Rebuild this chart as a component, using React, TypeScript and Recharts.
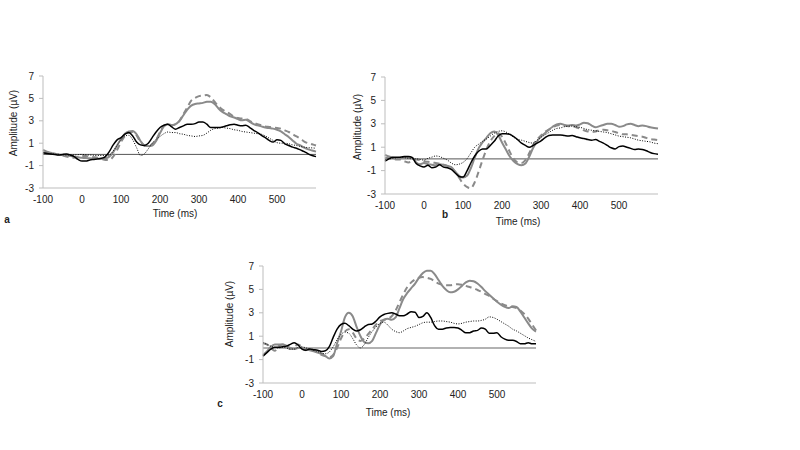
import { LineChart, Line, XAxis, YAxis, ReferenceLine } from 'recharts'

// time points (ms)
const times = [
  -100, -90, -80, -70, -60, -50, -40, -30, -20, -10,
  0, 10, 20, 30, 40, 50, 60, 70, 80, 90,
  100, 110, 120, 130, 140, 150, 160, 170, 180, 190,
  200, 210, 220, 230, 240, 250, 260, 270, 280, 290,
  300, 310, 320, 330, 340, 350, 360, 370, 380, 390,
  400, 410, 420, 430, 440, 450, 460, 470, 480, 490,
  500, 510, 520, 530, 540, 550, 560, 570, 580, 590,
  600,
]
const xTicks = [-100, 0, 100, 200, 300, 400, 500]
const yTicks = [-3, -1, 1, 3, 5, 7]

// panel a
const aBlack = [
  0.15, 0.08, 0.03, 0.0, -0.05, 0.0, 0.03, -0.05, -0.2, -0.45,
  -0.6, -0.6, -0.5, -0.45, -0.4, -0.35, -0.2, 0.25, 0.85, 1.3,
  1.5, 1.8, 1.95, 1.65, 1.1, 0.85, 0.8, 1.0, 1.5, 2.0,
  2.4, 2.6, 2.7, 2.45, 2.25, 2.4, 2.55, 2.7, 2.7, 2.75,
  2.9, 2.9, 2.7, 2.4, 2.4, 2.4, 2.45, 2.55, 2.65, 2.7,
  2.6, 2.55, 2.6, 2.4, 2.15, 1.95, 1.7, 1.5, 1.25, 1.1,
  1.3, 1.25, 0.95, 0.8, 0.65, 0.55, 0.4, 0.25, 0.05, -0.1,
  -0.2,
]
const aDotted = [
  0.15, 0.1, 0.05, 0.02, 0.0, -0.03, -0.05, -0.05, -0.05, -0.02,
  0.0, -0.03, -0.05, -0.08, -0.1, -0.1, -0.1, -0.05, 0.3, 0.8,
  1.3, 1.65, 1.7, 1.3, 0.6, -0.1, 0.05, 0.5, 1.0, 1.35,
  1.6, 1.85, 2.0, 1.95, 1.95, 1.85, 1.8, 1.7, 1.65, 1.6,
  1.65, 1.7, 1.9, 2.15, 2.3, 2.35, 2.4, 2.35, 2.3, 2.2,
  2.15, 2.05, 2.0, 1.95, 1.9, 1.85, 1.8, 1.65, 1.45, 1.25,
  1.05, 1.0, 1.0, 0.95, 0.85, 0.8, 0.7, 0.65, 0.6, 0.58,
  0.55,
]
const aGray = [
  0.4, 0.25, 0.15, 0.05, 0.0, -0.05, -0.1, -0.15, -0.2, -0.25,
  -0.3, -0.33, -0.35, -0.38, -0.4, -0.38, -0.35, -0.2, 0.2, 0.8,
  1.4, 1.85, 2.05, 2.1, 1.8, 1.2, 0.8, 0.75, 0.8, 1.2,
  1.9, 2.5, 2.7, 2.6, 2.7, 3.0, 3.5, 4.0, 4.35, 4.5,
  4.55, 4.6, 4.7, 4.7, 4.5, 4.1, 3.8, 3.6, 3.4, 3.3,
  3.15, 3.05, 3.1, 2.9, 2.7, 2.6, 2.5, 2.4, 2.35, 2.3,
  2.2, 2.05, 1.8, 1.55, 1.25, 0.95, 0.8, 0.6, 0.45, 0.35,
  0.25,
]
const aDashed = [
  0.2, 0.15, 0.1, 0.05, 0.0, -0.1, -0.2, -0.25, -0.3, -0.2,
  -0.15, -0.15, -0.2, -0.25, -0.3, -0.4, -0.5, -0.5, -0.2, 0.4,
  1.1, 1.65, 1.95, 2.0, 1.7, 1.1, 0.8, 0.75, 0.9, 1.3,
  2.0, 2.55, 2.7, 2.6, 2.7, 3.0, 3.6, 4.2, 4.8, 5.05,
  5.2, 5.25, 5.3, 5.1, 4.7, 4.3, 4.0, 3.8, 3.6, 3.35,
  3.25, 3.2, 3.15, 3.0, 2.8, 2.7, 2.6, 2.5, 2.45, 2.4,
  2.35, 2.3, 2.15, 2.0, 1.8, 1.6, 1.4, 1.15, 1.0, 0.9,
  0.8,
]

// panel b
const bBlack = [
  -0.2, 0.0, 0.15, 0.15, 0.15, 0.2, 0.2, 0.1, -0.4, -0.6,
  -0.7, -0.55, -0.75, -0.7, -0.5, -0.7, -0.75, -0.9, -1.2, -1.5,
  -1.55, -1.05, -0.35, 0.25, 0.65, 0.85, 0.85, 1.15, 1.5, 1.95,
  2.15, 2.15, 2.1, 1.9, 1.65, 1.35, 1.15, 1.0, 1.15, 1.35,
  1.55, 1.8, 2.0, 2.05, 2.05, 2.05, 2.0, 1.95, 2.0, 1.9,
  1.8, 1.75, 1.65, 1.6, 1.65, 1.5, 1.35, 1.15, 0.95, 0.85,
  1.05, 1.1, 1.0, 0.9, 0.8, 0.85, 0.8, 0.7, 0.55, 0.45,
  0.4,
]
const bDotted = [
  -0.05, 0.0, 0.05, 0.1, 0.15, 0.1, 0.05, 0.0, 0.0, -0.05,
  -0.1, 0.05, 0.15, 0.25, 0.2, 0.05, -0.1, -0.35, -0.5, -0.45,
  -0.3, 0.0, 0.5, 1.0, 1.25, 1.5, 1.7, 1.95, 2.2, 2.35,
  2.4, 2.3, 2.1, 1.85, 1.65, 1.6, 1.5, 1.4, 1.35, 1.6,
  1.85, 2.05, 2.25, 2.45, 2.6, 2.65, 2.75, 2.8, 2.8, 2.75,
  2.7, 2.6, 2.5, 2.45, 2.4, 2.35, 2.3, 2.25, 2.15, 2.05,
  1.95, 1.9, 1.85, 1.8, 1.7, 1.6, 1.55, 1.5, 1.45, 1.35,
  1.3,
]
const bGray = [
  0.35, 0.2, 0.1, 0.0, 0.05, 0.15, 0.15, 0.1, -0.3, -0.45,
  -0.35, -0.45, -0.5, -0.55, -0.45, -0.5, -0.6, -0.7, -1.1, -1.45,
  -1.6, -1.45, -0.8, 0.1, 0.9, 1.4, 1.8, 2.2, 2.35, 2.05,
  1.4, 0.8, 0.2, -0.2, -0.45, -0.55, -0.4, 0.2, 0.95, 1.5,
  1.9, 2.2, 2.5, 2.75, 2.95, 3.0, 2.9, 2.85, 2.9, 2.85,
  2.95, 3.1, 3.05, 2.85, 2.7, 2.8, 2.9, 3.0, 3.0, 2.9,
  2.75, 2.8, 2.95, 3.0, 2.9, 2.8, 2.85, 2.8, 2.7, 2.65,
  2.6,
]
const bDashed = [
  0.1, 0.05, 0.0, -0.05, -0.05, -0.2, -0.3, -0.2, -0.05, -0.1,
  -0.2, -0.25, -0.3, -0.35, -0.4, -0.5, -0.6, -0.75, -1.1, -1.6,
  -2.1, -2.4, -2.5, -2.0, -1.1, -0.1, 0.8, 1.5, 1.95, 2.2,
  1.9, 1.3, 0.6, 0.0, -0.3, -0.35, -0.1, 0.5, 1.2, 1.65,
  2.0, 2.3, 2.5, 2.7, 2.85, 2.9, 2.85, 2.8, 2.8, 2.7,
  2.6, 2.45, 2.35, 2.3, 2.35, 2.45, 2.5, 2.45, 2.4, 2.3,
  2.2, 2.1, 2.1, 2.05, 2.0, 1.95, 1.9, 1.8, 1.7, 1.65,
  1.6,
]

// panel c
const cBlack = [
  -0.7, -0.4, -0.1, 0.05, 0.05, 0.1, 0.15, 0.3, 0.45, 0.25,
  -0.1, -0.2, -0.1, -0.15, -0.2, -0.3, -0.25, 0.1, 0.9, 1.6,
  2.0, 2.1, 1.9, 1.6, 1.45, 1.55, 1.8, 2.0, 2.05, 2.3,
  2.65, 2.85, 2.95, 3.0, 2.9, 2.75, 2.75, 2.9, 3.1, 3.05,
  2.6, 2.7, 3.0, 2.6, 1.9, 1.6, 1.6, 1.7, 1.75, 1.75,
  1.7, 1.5, 1.3, 1.3, 1.45, 1.5, 1.7, 1.6, 1.25, 1.25,
  1.3, 0.95, 0.75, 0.65, 0.65, 0.55, 0.35, 0.35, 0.45, 0.35,
  0.35,
]
const cDotted = [
  0.45, 0.3, 0.15, 0.05, 0.0, 0.05, 0.0, -0.1, -0.1, 0.05,
  0.1, 0.0, -0.1, -0.2, -0.3, -0.45, -0.5, -0.35, 0.1, 0.7,
  1.15, 1.35, 1.25, 0.8, 0.25, 0.0, 0.3, 0.9, 1.4, 1.8,
  2.1, 2.2, 1.95, 1.6, 1.4, 1.3, 1.45, 1.65, 1.75, 1.85,
  2.0, 2.15, 2.2, 2.2, 2.25, 2.3, 2.3, 2.25, 2.2, 2.1,
  2.05, 2.1, 2.2, 2.25, 2.3, 2.3, 2.35, 2.45, 2.65, 2.6,
  2.45, 2.25, 2.05, 1.85, 1.6, 1.45, 1.25, 1.05, 0.85, 0.7,
  0.55,
]
const cGray = [
  -0.6, -0.3, 0.1, 0.3, 0.3, 0.3, 0.2, 0.0, -0.1, 0.0,
  0.0, -0.1, -0.2, -0.3, -0.4, -0.5, -0.7, -0.9, -0.7, 0.4,
  1.4, 2.6, 3.0, 2.7, 1.8, 1.0, 0.5, 0.4, 0.6, 1.3,
  2.0, 2.4, 2.5, 2.4, 2.6, 3.4, 4.2, 4.7, 5.1, 5.5,
  6.0, 6.4, 6.6, 6.6, 6.3, 5.8, 5.3, 4.95, 4.75, 4.8,
  5.0, 5.3, 5.6, 5.75, 5.7, 5.5, 5.2, 4.85, 4.55, 4.25,
  3.95, 3.7, 3.5, 3.4, 3.55, 3.5, 3.1, 2.6, 2.1, 1.65,
  1.4,
]
const cDashed = [
  0.4, 0.3, 0.0, -0.25, 0.15, 0.3, 0.1, -0.1, 0.1, 0.3,
  0.1, -0.2, 0.0, -0.2, -0.4, -0.6, -0.7, -0.8, -0.6, 0.0,
  0.8, 1.4, 1.6, 1.3, 0.8, 0.6, 0.8, 1.2, 1.6, 2.0,
  2.3, 2.4, 2.5, 2.7, 3.2, 3.9, 4.6, 5.2, 5.6, 5.85,
  6.0, 6.05, 6.0, 5.9, 5.7, 5.5, 5.4, 5.35, 5.35, 5.4,
  5.45, 5.4, 5.3, 5.2, 5.1, 4.95, 4.8, 4.6, 4.45, 4.2,
  4.0, 3.8, 3.65, 3.55, 3.5, 3.4, 3.2, 2.9, 2.5, 2.0,
  1.5,
]

const FONT = '"Liberation Sans", Arial, sans-serif'
const GRAY = '#8a8a8a'

function build(black: number[], dotted: number[], gray: number[], dashed: number[]) {
  return times.map((t, i) => ({ t, black: black[i], dotted: dotted[i], gray: gray[i], dashed: dashed[i] }))
}

interface PanelProps {
  left: number
  top: number
  yWidth: number
  margin: { top: number; right: number; bottom: number; left: number }
  data: any[]
  zeroColor: string
  zeroWidth: number
}

function Panel({ left, top, yWidth, margin, data, zeroColor, zeroWidth }: PanelProps) {
  return (
    <div style={{ position: 'absolute', left, top }}>
      <LineChart width={330} height={170} data={data} margin={margin}>
        <XAxis
          dataKey="t"
          type="number"
          domain={[-100, 600]}
          ticks={xTicks}
          height={20}
          stroke="#bdbdbd"
          tickLine={false}
          tickSize={6}
          tickMargin={2}
          tick={{ fill: '#222', fontSize: 10, fontFamily: FONT }}
        />
        <YAxis
          type="number"
          domain={[-3, 7]}
          ticks={yTicks}
          width={yWidth}
          stroke="#bdbdbd"
          tickSize={4}
          tickMargin={5}
          tick={{ fill: '#222', fontSize: 10, fontFamily: FONT }}
        />
        <ReferenceLine y={0} stroke={zeroColor} strokeWidth={zeroWidth} />
        <Line dataKey="dashed" type="monotone" stroke={GRAY} strokeWidth={2} strokeDasharray="6 4" dot={false} isAnimationActive={false} />
        <Line dataKey="gray" type="monotone" stroke={GRAY} strokeWidth={2} dot={false} isAnimationActive={false} />
        <Line dataKey="dotted" type="monotone" stroke="#000" strokeWidth={1} strokeDasharray="1 1.5" dot={false} isAnimationActive={false} />
        <Line dataKey="black" type="monotone" stroke="#000" strokeWidth={1.5} dot={false} isAnimationActive={false} />
      </LineChart>
    </div>
  )
}

function Txt({ x, y, children, rotate, bold }: { x: number; y: number; children: any; rotate?: boolean; bold?: boolean }) {
  return (
    <div
      style={{
        position: 'absolute',
        left: x,
        top: y,
        transform: `translate(-50%, -50%)${rotate ? ' rotate(-90deg)' : ''}`,
        whiteSpace: 'nowrap',
        fontFamily: FONT,
        fontSize: 10,
        fontWeight: bold ? 'bold' : 'normal',
        color: '#222',
        lineHeight: 1,
      }}
    >
      {children}
    </div>
  )
}

export default function App() {
  return (
    <div style={{ position: 'absolute', left: 0, top: 0, width: 800, height: 450, background: '#fff', overflow: 'hidden' }}>
      <Panel
        left={0}
        top={60}
        yWidth={43}
        margin={{ top: 16, right: 14, bottom: 22, left: 0 }}
        data={build(aBlack, aDotted, aGray, aDashed)}
        zeroColor="#555"
        zeroWidth={1}
      />
      <Txt x={14} y={123} rotate>Amplitude (µV)</Txt>
      <Txt x={175} y={214}>Time (ms)</Txt>
      <Txt x={7} y={220} bold>a</Txt>

      <Panel
        left={340}
        top={60}
        yWidth={45}
        margin={{ top: 17, right: 12, bottom: 16, left: 0 }}
        data={build(bBlack, bDotted, bGray, bDashed)}
        zeroColor="#555"
        zeroWidth={1}
      />
      <Txt x={358} y={127} rotate>Amplitude (µV)</Txt>
      <Txt x={518} y={222}>Time (ms)</Txt>
      <Txt x={445} y={215} bold>b</Txt>

      <Panel
        left={215}
        top={250}
        yWidth={48}
        margin={{ top: 16, right: 9, bottom: 17, left: 0 }}
        data={build(cBlack, cDotted, cGray, cDashed)}
        zeroColor="#999"
        zeroWidth={1.5}
      />
      <Txt x={230} y={314} rotate>Amplitude (µV)</Txt>
      <Txt x={388} y={413}>Time (ms)</Txt>
      <Txt x={220} y={404} bold>c</Txt>
    </div>
  )
}
